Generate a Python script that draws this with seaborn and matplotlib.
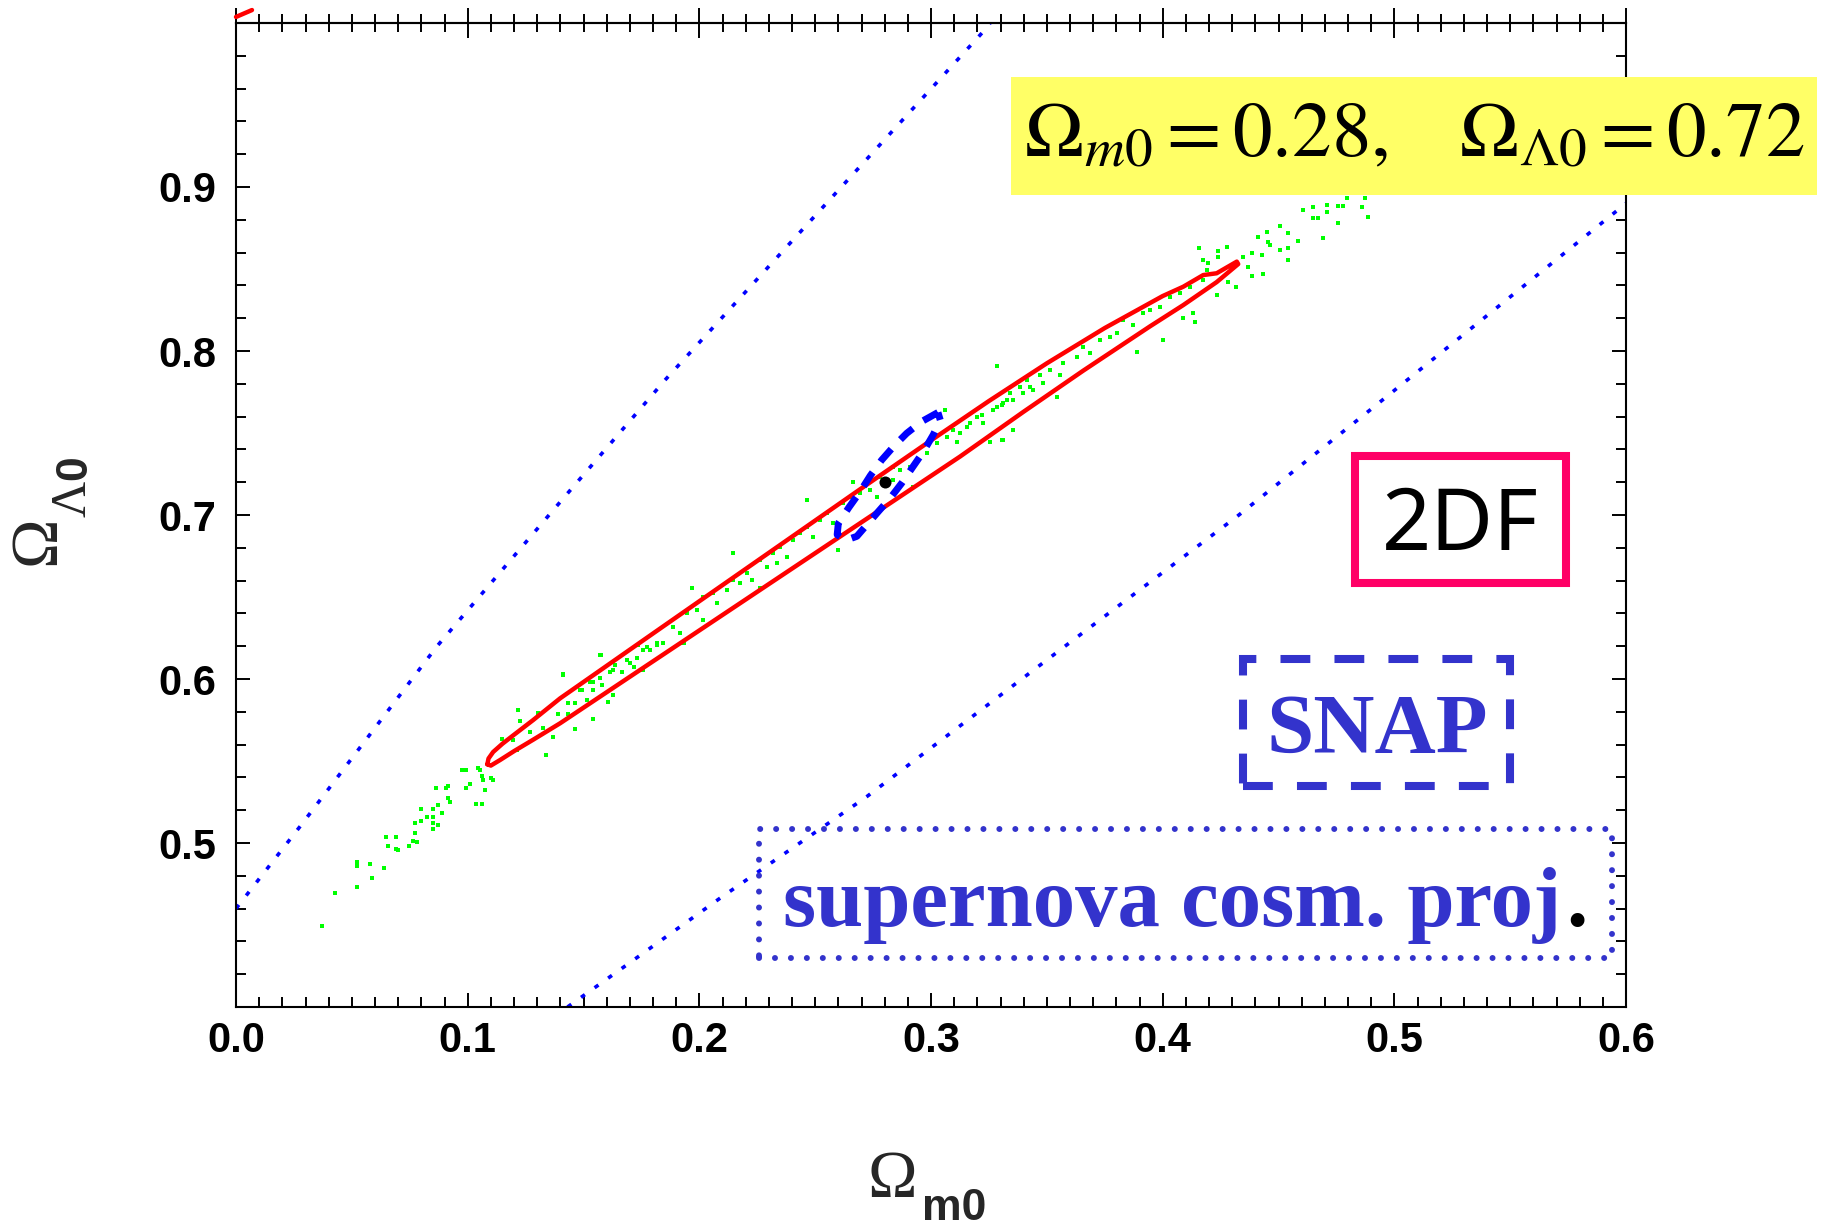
import numpy as np
import pandas as pd
import seaborn as sns
import matplotlib.pyplot as plt
from matplotlib.patches import Rectangle
from matplotlib.ticker import MultipleLocator, FormatStrFormatter

# 1. Data, in (Omega_m0, Omega_Lambda0)
x_ticks = [0.0, 0.1, 0.2, 0.3, 0.4, 0.5, 0.6]
y_ticks = [0.5, 0.6, 0.7, 0.8, 0.9]

# 2DF contour: upper edge from the lower tip, then lower edge back to it
twodf_om = [0.1085, 0.1090, 0.1110, 0.1150, 0.1200, 0.1283, 0.1399, 0.1830, 0.2262,
            0.2693, 0.3000, 0.3250, 0.3500, 0.3750, 0.4000, 0.4089, 0.4175, 0.4233,
            0.4320,
            0.4326, 0.4233, 0.4089, 0.3945, 0.3657, 0.3400, 0.3125, 0.2693, 0.2262,
            0.1830, 0.1399, 0.1283, 0.1200, 0.1140, 0.1100, 0.1085]
twodf_ol = [0.5480, 0.5515, 0.5555, 0.5605, 0.5660, 0.5750, 0.5882, 0.6307, 0.6732,
            0.7156, 0.7455, 0.7695, 0.7925, 0.8140, 0.8335, 0.8392, 0.8463, 0.8474,
            0.8545,
            0.8530, 0.8420, 0.8280, 0.8150, 0.7880, 0.7630, 0.7356, 0.6949, 0.6543,
            0.6136, 0.5730, 0.5630, 0.5560, 0.5506, 0.5472, 0.5480]

# piece of another 2DF contour just above the top-left corner
corner_om = [0.0, 0.0069]
corner_ol = [1.0037, 1.0079]

# SNAP contour (dashed ellipse) and fiducial model
snap_om = [0.3030, 0.2960, 0.2895, 0.2840, 0.2787, 0.2738, 0.2694, 0.2645, 0.2600, 0.2595,
           0.2630, 0.2680, 0.2772, 0.2825, 0.2873, 0.2920, 0.2967, 0.3010, 0.3040, 0.3030]
snap_ol = [0.7625, 0.7570, 0.7498, 0.7420, 0.7335, 0.7240, 0.7142, 0.7045, 0.6949, 0.6880,
           0.6845, 0.6870, 0.7020, 0.7105, 0.7193, 0.7290, 0.7386, 0.7490, 0.7579, 0.7625]
fiducial_om = [0.28]
fiducial_ol = [0.72]

# supernova cosmology project band (two dotted edges)
sn_upper_om = [0.0, 0.0276, 0.0866, 0.1413, 0.1852, 0.3240, 0.3255]
sn_upper_ol = [0.460, 0.510, 0.6197, 0.7102, 0.7823, 0.997, 1.000]
sn_lower_om = [0.1431, 0.1686, 0.2089, 0.2722, 0.3557, 0.4320, 0.4895, 0.600]
sn_lower_ol = [0.400, 0.4256, 0.4663, 0.5282, 0.6177, 0.6990, 0.7640, 0.890]

# Monte Carlo points (green)
mc_points = [
    (0.0370, 0.4494), (0.0427, 0.4693), (0.0521, 0.4886), (0.0521, 0.4860), (0.0521, 0.4730),
    (0.0578, 0.4872), (0.0588, 0.4789), (0.0639, 0.4848), (0.0648, 0.5039), (0.0689, 0.5039),
    (0.0655, 0.4980), (0.0689, 0.4966), (0.0698, 0.4955), (0.0748, 0.4980), (0.0773, 0.5124),
    (0.0773, 0.5063), (0.0766, 0.5012), (0.0783, 0.5004), (0.0797, 0.5205), (0.0797, 0.5134),
    (0.0823, 0.5159), (0.0849, 0.5205), (0.0849, 0.5159), (0.0849, 0.5124), (0.0849, 0.5088),
    (0.0873, 0.5230), (0.0873, 0.5110), (0.0891, 0.5183), (0.0865, 0.5338), (0.0907, 0.5338),
    (0.0917, 0.5348), (0.0917, 0.5277), (0.0925, 0.5252), (0.0976, 0.5443), (0.0991, 0.5443),
    (0.0991, 0.5338), (0.1009, 0.5360), (0.1035, 0.5240), (0.1060, 0.5240), (0.1043, 0.5455),
    (0.1052, 0.5443), (0.1060, 0.5409), (0.1068, 0.5384), (0.1076, 0.5325), (0.1102, 0.5396),
    (0.1111, 0.5384),
    (0.1147, 0.5634), (0.1219, 0.5811), (0.1226, 0.5744), (0.1337, 0.5539), (0.1413, 0.6029),
    (0.1463, 0.5693), (0.1540, 0.5756), (0.1571, 0.6147), (0.1607, 0.5860), (0.1931, 0.6218),
    (0.1197, 0.5628), (0.1212, 0.5567), (0.1269, 0.5679), (0.1305, 0.5795), (0.1327, 0.5699),
    (0.1370, 0.5649), (0.1392, 0.5787), (0.1435, 0.5787), (0.1463, 0.5852), (0.1492, 0.5933),
    (0.1514, 0.5872), (0.1543, 0.5984), (0.1579, 0.5964), (0.1614, 0.6045), (0.1636, 0.6086),
    (0.1665, 0.6045), (0.1701, 0.6096), (0.1729, 0.6126), (0.1787, 0.6177), (0.1816, 0.6208),
    (0.1758, 0.6055), (0.1629, 0.5903), (0.1435, 0.5852),
    (0.1413, 0.6024), (0.1606, 0.5862), (0.1574, 0.6146), (0.1737, 0.6207), (0.1935, 0.6217),
    (0.1967, 0.6553), (0.2147, 0.6766), (0.2262, 0.6553), (0.2463, 0.7091), (0.2600, 0.6786),
    (0.2664, 0.7203), (0.2924, 0.7173), (0.3060, 0.7640), (0.3255, 0.7447), (0.3312, 0.7457),
    (0.3355, 0.7518), (0.3305, 0.7671),
    (0.1485, 0.5933), (0.1528, 0.5984), (0.1571, 0.6004), (0.1629, 0.6055), (0.1686, 0.6116),
    (0.1716, 0.6075), (0.1773, 0.6197), (0.1816, 0.6217), (0.1845, 0.6217), (0.1888, 0.6319),
    (0.1917, 0.6278), (0.1945, 0.6400), (0.1989, 0.6421), (0.2017, 0.6360), (0.2060, 0.6522),
    (0.2075, 0.6461), (0.2118, 0.6543), (0.2147, 0.6604), (0.2176, 0.6583), (0.2204, 0.6644),
    (0.2226, 0.6604), (0.2262, 0.6725), (0.2291, 0.6685), (0.2320, 0.6766), (0.2348, 0.6807),
    (0.2377, 0.6746), (0.2406, 0.6848), (0.2435, 0.6888), (0.2463, 0.6929), (0.2492, 0.6868),
    (0.2521, 0.6970), (0.2550, 0.7010), (0.2579, 0.6949), (0.2622, 0.7071), (0.2651, 0.7112),
    (0.2693, 0.7132), (0.2737, 0.7153), (0.2765, 0.7112), (0.2837, 0.7295), (0.2866, 0.7274),
    (0.2909, 0.7295), (0.2981, 0.7376), (0.3024, 0.7437), (0.3068, 0.7478), (0.3111, 0.7447),
    (0.3154, 0.7538), (0.3197, 0.7599), (0.3226, 0.7559), (0.3269, 0.7640), (0.3312, 0.7681),
    (0.3355, 0.7701), (0.3399, 0.7742), (0.3442, 0.7762), (0.3485, 0.7803), (0.2837, 0.7213),
    (0.2780, 0.7234), (0.2334, 0.6705), (0.2017, 0.6502), (0.1758, 0.6177), (0.1542, 0.5933),
    (0.3096, 0.7518), (0.3427, 0.7782),
    (0.3283, 0.7909), (0.3305, 0.7458), (0.3542, 0.7722), (0.3888, 0.7996), (0.4003, 0.8067),
    (0.4132, 0.8230), (0.4140, 0.8179), (0.4089, 0.8200), (0.4233, 0.8342), (0.4284, 0.8423),
    (0.4317, 0.8389), (0.4384, 0.8458), (0.4434, 0.8468), (0.4370, 0.8515), (0.4348, 0.8576),
    (0.4384, 0.8596), (0.4427, 0.8586), (0.4463, 0.8647), (0.4506, 0.8616), (0.4542, 0.8718),
    (0.4542, 0.8626), (0.4586, 0.8671), (0.4542, 0.8555), (0.4456, 0.8667), (0.4413, 0.8698),
    (0.4449, 0.8728), (0.4506, 0.8763), (0.4607, 0.8860), (0.4650, 0.8880), (0.4650, 0.8809),
    (0.4672, 0.8809), (0.4708, 0.8850), (0.4708, 0.8890), (0.4758, 0.8885), (0.4780, 0.8885),
    (0.4794, 0.8931), (0.4758, 0.8779), (0.4691, 0.8691), (0.4859, 0.8880), (0.4888, 0.8820),
    (0.4873, 0.8931), (0.4158, 0.8626), (0.4240, 0.8610), (0.4276, 0.8637), (0.4197, 0.8539),
    (0.4176, 0.8555), (0.4240, 0.8576), (0.4190, 0.8494),
    (0.3125, 0.7498), (0.3168, 0.7559), (0.3219, 0.7610), (0.3226, 0.7559), (0.3283, 0.7661),
    (0.3327, 0.7702), (0.3341, 0.7742), (0.3384, 0.7783), (0.3413, 0.7824), (0.3442, 0.7763),
    (0.3470, 0.7854), (0.3514, 0.7885), (0.3557, 0.7854), (0.3571, 0.7925), (0.3629, 0.7966),
    (0.3658, 0.8027), (0.3686, 0.7986), (0.3730, 0.8067), (0.3773, 0.8088), (0.3801, 0.8108),
    (0.3830, 0.8189), (0.3873, 0.8159), (0.3917, 0.8230), (0.3945, 0.8250), (0.3988, 0.8271),
    (0.4032, 0.8332), (0.4075, 0.8352), (0.4118, 0.8393), (0.4176, 0.8433),
]
mc = pd.DataFrame(mc_points, columns=["om", "ol"])

# 2. Figure setup (pixel layout of the original)
W, H = 1823, 1230
sns.set_theme(style="ticks")
plt.rcParams["font.family"] = ["Liberation Sans", "DejaVu Sans"]
plt.rcParams["font.weight"] = "normal"


def fx(px):
    return px / W


def fy(py):
    return 1 - py / H


fig = plt.figure(figsize=(W / 100, H / 100), dpi=100)
fig.patch.set_facecolor("white")
ax = fig.add_axes([fx(236), fy(1007), (1626 - 236) / W, (1007 - 23) / H])
ax.set_facecolor("white")

# 3. Curves and points
sn_style = dict(sort=False, estimator=None, color="#0000FF", linewidth=2.6,
                linestyle=(0, (1.3, 3.3)), zorder=2, ax=ax)
sns.lineplot(x=sn_upper_om, y=sn_upper_ol, **sn_style)
sns.lineplot(x=sn_lower_om, y=sn_lower_ol, **sn_style)
sns.scatterplot(data=mc, x="om", y="ol", marker="s", s=5, color="#00FF00",
                linewidth=0, zorder=3, ax=ax)
sns.lineplot(x=twodf_om, y=twodf_ol, sort=False, estimator=None, color="#FF0000",
             linewidth=3.2, zorder=4, ax=ax)
sns.lineplot(x=corner_om, y=corner_ol, sort=False, estimator=None, color="#FF0000",
             linewidth=3.2, zorder=4, clip_on=False, ax=ax)
sns.lineplot(x=snap_om, y=snap_ol, sort=False, estimator=None, color="#0000FF",
             linewidth=5.0, linestyle=(0, (2.4, 1.9)), zorder=5, ax=ax)
sns.scatterplot(x=fiducial_om, y=fiducial_ol, color="black", s=75, linewidth=0,
                zorder=6, ax=ax)

# 4. Axes, ticks
ax.set_xlim(0, 0.6)
ax.set_ylim(0.4, 1.0)
ax.set_xticks(x_ticks)
ax.set_yticks(y_ticks)
ax.xaxis.set_major_formatter(FormatStrFormatter("%.1f"))
ax.yaxis.set_major_formatter(FormatStrFormatter("%.1f"))
ax.xaxis.set_minor_locator(MultipleLocator(0.01))
ax.yaxis.set_minor_locator(MultipleLocator(0.02))
ax.set_xlabel("")
ax.set_ylabel("")
for s in ax.spines.values():
    s.set_linewidth(1.5)
    s.set_color("black")
ax.tick_params(which="both", direction="in", top=False, right=True, width=1.4,
               color="black", labelsize=30, labelcolor="black")
ax.tick_params(which="major", length=10)
ax.tick_params(which="minor", length=7)
ax.tick_params(axis="x", pad=10)
ax.tick_params(axis="y", pad=14)
for lab in ax.get_xticklabels() + ax.get_yticklabels():
    lab.set_fontweight("bold")

top = ax.secondary_xaxis("top")
top.set_xticks(x_ticks)
top.xaxis.set_minor_locator(MultipleLocator(0.01))
top.tick_params(which="both", direction="inout", labeltop=False, width=1.4, color="black")
top.tick_params(which="major", length=21)
top.tick_params(which="minor", length=13)
top.spines["top"].set_linewidth(1.5)

# axis labels
fig.text(fx(892), fy(1197), "Ω", family="Liberation Serif", size=48,
         ha="center", va="baseline")
fig.text(fx(922), fy(1220), "m0", size=32, weight="bold", ha="left", va="baseline")
fig.text(fx(55), fy(540), "Ω", family="Liberation Serif", size=48,
         rotation=90, rotation_mode="anchor", ha="center", va="baseline")
fig.text(fx(86), fy(499), "Λ", family="Liberation Serif", size=36,
         rotation=90, rotation_mode="anchor", ha="center", va="baseline")
fig.text(fx(86), fy(468), "0", size=32, weight="bold", rotation=90,
         rotation_mode="anchor", ha="center", va="baseline")

# 5. Annotation boxes
fig.add_artist(Rectangle((fx(1011), fy(195)), (1817 - 1011) / W, (195 - 77) / H,
                         transform=fig.transFigure, facecolor="#FFFF66",
                         edgecolor="none", zorder=10))
fig.text(fx(1024), fy(156), r"$\Omega_{m0} = 0.28,\quad \Omega_{\Lambda0} = 0.72$",
         math_fontfamily="stix", size=57, color="black",
         ha="left", va="baseline", zorder=11)

fig.add_artist(Rectangle((fx(1355), fy(583)), (1566 - 1355) / W, (583 - 456) / H,
                         transform=fig.transFigure, facecolor="white",
                         edgecolor="#FF0066", linewidth=5.8, zorder=10))
fig.text(fx(1460), fy(550), "2DF", family="Noto Sans", size=62,
         color="black", ha="center", va="baseline", zorder=11)

fig.add_artist(Rectangle((fx(1243), fy(786)), (1510 - 1243) / W, (786 - 659) / H,
                         transform=fig.transFigure, facecolor="none",
                         edgecolor="#3333CC", linewidth=5.8,
                         linestyle=(0, (3.7, 3.0)), zorder=10))
fig.text(fx(1377), fy(753), "SNAP", family="Liberation Serif", weight="bold", size=61,
         color="#3333CC", ha="center", va="baseline", zorder=11)

fig.add_artist(Rectangle((fx(759), fy(958)), (1612 - 759) / W, (958 - 829) / H,
                         transform=fig.transFigure, facecolor="none",
                         edgecolor="#3333CC", linewidth=4.3, capstyle="round",
                         linestyle=(0, (0.01, 2.66)), zorder=10))
sn_txt = fig.text(fx(783), fy(926), "supernova cosm. proj", family="Liberation Serif",
                  weight="bold", size=61, color="#3333CC", ha="left", va="baseline",
                  zorder=11)
ax.annotate(".", xy=(1, 0), xycoords=sn_txt, xytext=(5, 0), textcoords="offset pixels",
            family="Liberation Serif", weight="bold", size=61, color="black",
            ha="left", va="bottom", annotation_clip=False, zorder=11)

plt.savefig("out.png", dpi=100)
